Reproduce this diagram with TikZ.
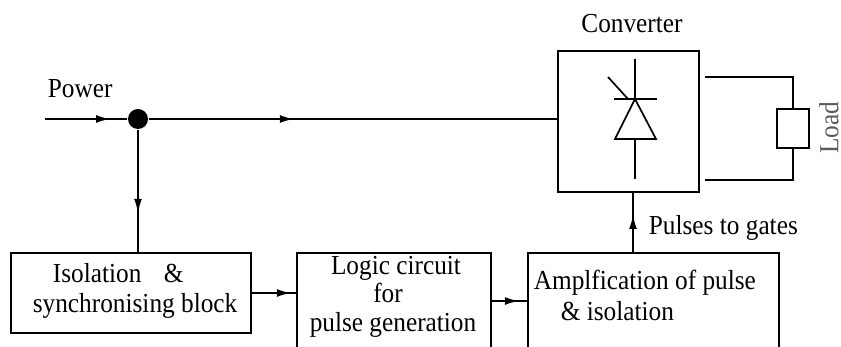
\documentclass[tikz,border=0pt]{standalone}
\usepackage{fontspec}
\setmainfont[FakeStretch=0.92]{Liberation Serif}
\usetikzlibrary{arrows.meta,decorations.markings}
\begin{document}
\begin{tikzpicture}[x=1pt,y=-1pt,
  line width=1.7pt,
  every node/.style={font=\fontsize{27.5}{32}\selectfont, inner sep=0pt},
  blk/.style={draw, rectangle, minimum width=#1},
  txt/.style={anchor=base west},
  midarrow/.style={postaction={decorate},
    decoration={markings, mark=at position #1 with {\arrow{Latex[length=14pt,width=8pt]}}}}
]
\clip (0,0) rectangle (841,347);
\fill[white] (0,0) rectangle (841,347);

% blocks
\node[blk=240, minimum height=80] (iso) at (131,293) {};
\node[blk=194, minimum height=96] (logic) at (394,301) {};
\node[blk=251, minimum height=96] (amp) at (653.5,301) {};
\node[blk=141, minimum height=141] (conv) at (628.5,121.5) {};
\node[blk=32, minimum height=39] (load) at (793,128.5) {};
\node[circle, fill, minimum size=20] (dot) at (138,119) {};

% texts
\node[txt] (tpower) at (47,98) {Power};
\node[anchor=base] (tconv) at (632,33) {Converter};
\node[txt] (tiso1) at (52,283) {Isolation};
\node[txt] (tiso2) at (163,283) {\&};
\node[txt] (tiso3) at (32,313) {synchronising block};
\node[anchor=base] (tlog1) at (396,275) {Logic circuit};
\node[anchor=base] (tlog2) at (388,303) {for};
\node[anchor=base] (tlog3) at (393,332) {pulse generation};
\node[txt] (tamp1) at (533,290) {Amplfication of pulse};
\node[txt] (tamp2) at (560,321) {\& isolation};
\node[txt] (tpul) at (648,235) {Pulses to gates};
\node[anchor=center, rotate=90, text=black!65] (tload) at (829,128) {Load};

% thyristor
\coordinate (ta) at (635,59);
\coordinate (tk) at (635,99);
\coordinate (tb) at (635,139);
\coordinate (te) at (635,179);
\draw (ta) -- (tk);
\draw (614,99) -- (657,99);
\draw (tk) -- (615,139) -- (656,139) -- cycle;
\draw (tb) -- (te);
\draw (608,77) -- (628,99);

% connectors
\coordinate (pin) at (45,119);
\draw[midarrow=65pt] (pin) -- (dot.west);
\draw[midarrow=145pt] (dot.east) -- (dot.east -| conv.west);
\draw[midarrow=83pt] (dot.south) -- (dot.south |- iso.north);
\draw[midarrow=39pt] (iso.east) -- (iso.east -| logic.west);
\draw[midarrow=27pt] (logic.east) -- (amp.west);
\coordinate (pg) at (633,253);
\draw[midarrow=38pt] (pg) -- (pg |- conv.south);

% load wiring
\coordinate (w1) at (705,77);
\coordinate (w2) at (705,180);
\draw (w1) -- (w1 -| load.north) -- (load.north);
\draw (w2) -- (w2 -| load.south) -- (load.south);
\end{tikzpicture}
\end{document}
